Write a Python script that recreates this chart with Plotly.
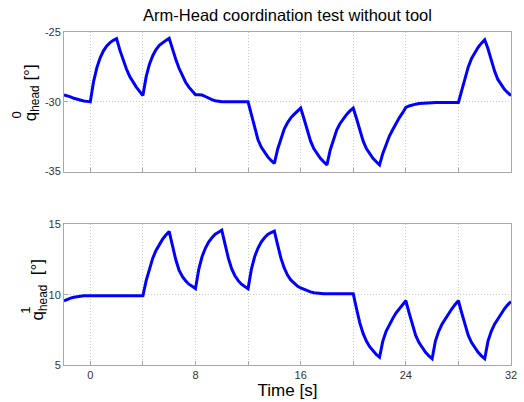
import plotly.graph_objects as go

time_s = [
    -2.0,
    -1.75, -1.5, -1.25, -1.0, -0.75, -0.5, -0.25, 0.0,
    0.25, 0.5, 0.75, 1.0, 1.25, 1.5, 1.75, 2.0,
    2.25, 2.5, 2.75, 3.0, 3.25, 3.5, 3.75, 4.0,
    4.25, 4.5, 4.75, 5.0, 5.25, 5.5, 5.75, 6.0,
    6.25, 6.5, 6.75, 7.0, 7.25, 7.5, 7.75, 8.0,
    8.25, 8.5, 8.75, 9.0, 9.25, 9.5, 9.75, 10.0,
    10.25, 10.5, 10.75, 11.0, 11.25, 11.5, 11.75, 12.0,
    12.25, 12.5, 12.75, 13.0, 13.25, 13.5, 13.75, 14.0,
    14.25, 14.5, 14.75, 15.0, 15.25, 15.5, 15.75, 16.0,
    16.25, 16.5, 16.75, 17.0, 17.25, 17.5, 17.75, 18.0,
    18.25, 18.5, 18.75, 19.0, 19.25, 19.5, 19.75, 20.0,
    20.25, 20.5, 20.75, 21.0, 21.25, 21.5, 21.75, 22.0,
    22.25, 22.5, 22.75, 23.0, 23.25, 23.5, 23.75, 24.0,
    24.25, 24.5, 24.75, 25.0, 25.25, 25.5, 25.75, 26.0,
    26.25, 26.5, 26.75, 27.0, 27.25, 27.5, 27.75, 28.0,
    28.25, 28.5, 28.75, 29.0, 29.25, 29.5, 29.75, 30.0,
    30.25, 30.5, 30.75, 31.0, 31.25, 31.5, 31.75, 32.0,
]

q0_head = [
    -29.5,
    -29.55, -29.65, -29.75, -29.83, -29.9, -29.94, -29.97, -30.0,
    -28.55, -27.55, -26.85, -26.35, -26.0, -25.76, -25.6, -25.48,
    -26.3, -27.0, -27.65, -28.2, -28.6, -28.95, -29.25, -29.55,
    -28.2, -27.3, -26.7, -26.25, -25.95, -25.75, -25.6, -25.45,
    -26.25, -26.95, -27.6, -28.15, -28.6, -28.95, -29.25, -29.5,
    -29.5, -29.52, -29.62, -29.75, -29.85, -29.92, -29.97, -30.0,
    -30.0, -30.0, -30.0, -30.0, -30.0, -30.0, -30.0, -30.0,
    -30.9, -31.9, -32.7, -33.25, -33.65, -33.95, -34.2, -34.42,
    -33.4, -32.6, -31.95, -31.5, -31.15, -30.9, -30.65, -30.45,
    -31.2, -32.1, -32.8, -33.35, -33.75, -34.05, -34.3, -34.52,
    -33.45, -32.65, -32.0, -31.55, -31.2, -30.9, -30.65, -30.45,
    -31.2, -32.1, -32.8, -33.35, -33.75, -34.05, -34.3, -34.52,
    -33.7, -33.0, -32.45, -32.0, -31.55, -31.15, -30.8, -30.4,
    -30.3, -30.22, -30.17, -30.13, -30.1, -30.08, -30.07, -30.06,
    -30.05, -30.05, -30.05, -30.05, -30.05, -30.05, -30.05, -30.05,
    -29.2, -28.3, -27.5, -26.9, -26.45, -26.1, -25.8, -25.55,
    -26.2, -27.0, -27.8, -28.4, -28.8, -29.1, -29.35, -29.55,
]

q1_head = [
    9.57,
    9.68, 9.76, 9.82, 9.87, 9.9, 9.92, 9.92, 9.92,
    9.92, 9.92, 9.92, 9.92, 9.92, 9.92, 9.92, 9.92,
    9.92, 9.92, 9.92, 9.92, 9.92, 9.92, 9.92, 9.92,
    11.0, 11.9, 12.6, 13.15, 13.6, 13.95, 14.25, 14.5,
    13.5, 12.5, 11.75, 11.3, 11.0, 10.75, 10.6, 10.43,
    11.8, 12.7, 13.3, 13.75, 14.05, 14.3, 14.45, 14.6,
    13.6, 12.6, 11.85, 11.35, 11.0, 10.75, 10.58, 10.43,
    11.8, 12.7, 13.3, 13.75, 14.05, 14.28, 14.42, 14.52,
    13.55, 12.6, 11.9, 11.4, 11.05, 10.8, 10.62, 10.48,
    10.38, 10.28, 10.2, 10.14, 10.1, 10.08, 10.07, 10.07,
    10.07, 10.07, 10.07, 10.07, 10.07, 10.07, 10.07, 10.07,
    9.0, 8.0, 7.25, 6.7, 6.3, 6.0, 5.75, 5.55,
    6.7, 7.4, 7.9, 8.3, 8.7, 9.0, 9.3, 9.57,
    8.7, 7.8, 7.1, 6.6, 6.2, 5.9, 5.65, 5.45,
    6.7, 7.4, 7.9, 8.3, 8.7, 9.0, 9.3, 9.57,
    8.7, 7.8, 7.1, 6.6, 6.2, 5.9, 5.65, 5.45,
    6.7, 7.4, 7.9, 8.3, 8.7, 9.0, 9.28, 9.52,
]

y0_ticks = [-35, -30, -25]
y0_ticktext = ["-35", "-30", "-25"]
y1_ticks = [5, 10, 15]
y1_ticktext = ["5", "10", "15"]

title_text = "Arm-Head coordination test without tool"
y0_label = "q<sub>head</sub> [°]"
y0_sup = "0"
y1_label = "q<sub>head</sub>  [°]"
y1_sup = "1"
x_label = "Time [s]"

FONT = "Liberation Sans, Arial, sans-serif"
BLUE = "#0000FF"
GRID = "#c8c8c8"
AXLINE = "#a8a8a8"
TICKFONT = dict(family=FONT, size=11, color="#333333")

# pixel geometry of the plot area
L, R, T, B = 64, 7, 32, 36
W, H = 524, 402
PW, PH = W - L - R, H - T - B


def px_x(px):
    return (px - L) / PW


def px_y(py):
    return (H - B - py) / PH


fig = go.Figure()
fig.add_trace(go.Scatter(x=time_s, y=q0_head, xaxis="x", yaxis="y", mode="lines",
                         line=dict(color=BLUE, width=3), showlegend=False))
fig.add_trace(go.Scatter(x=time_s, y=q1_head, xaxis="x2", yaxis="y2", mode="lines",
                         line=dict(color=BLUE, width=3), showlegend=False))

DOTS = "1px,2px"


def xax(show_labels, anchor):
    return dict(
        domain=[0, 1], anchor=anchor, range=[-2, 32],
        tickmode="linear", tick0=0, dtick=8,
        showticklabels=show_labels,
        ticks="inside", ticklen=4, tickcolor=AXLINE,
        showgrid=True, gridcolor=GRID, griddash=DOTS, gridwidth=1,
        minor=dict(dtick=4, tick0=0, showgrid=True, gridcolor=GRID, griddash=DOTS,
                   ticks="inside", ticklen=4, tickcolor=AXLINE),
        showline=True, mirror=True, linecolor=AXLINE, linewidth=1,
        zeroline=False,
        tickfont=TICKFONT,
    )


def yax(domain, rng, anchor, tv, tt):
    return dict(
        domain=domain, anchor=anchor, range=rng,
        tickmode="array", tickvals=tv, ticktext=tt,
        ticks="inside", ticklen=4, tickcolor=AXLINE,
        showgrid=True, gridcolor=GRID, griddash=DOTS, gridwidth=1,
        showline=True, mirror=True, linecolor=AXLINE, linewidth=1,
        zeroline=False,
        tickfont=TICKFONT,
    )


x2 = xax(True, "y2")
x2["title"] = dict(text=x_label, font=dict(family=FONT, size=17, color="#000000"), standoff=2)

label_font = dict(family=FONT, size=17, color="#000000")
sup_font = dict(family=FONT, size=13, color="#000000")
annotations = [
    dict(text=y0_label, textangle=-90, xref="paper", yref="paper",
         x=px_x(31), y=px_y(93), xanchor="center", yanchor="middle",
         showarrow=False, font=label_font),
    dict(text=y0_sup, textangle=-90, xref="paper", yref="paper",
         x=px_x(16), y=px_y(115), xanchor="center", yanchor="middle",
         showarrow=False, font=sup_font),
    dict(text=y1_label, textangle=-90, xref="paper", yref="paper",
         x=px_x(39), y=px_y(290), xanchor="center", yanchor="middle",
         showarrow=False, font=label_font),
    dict(text=y1_sup, textangle=-90, xref="paper", yref="paper",
         x=px_x(25), y=px_y(311), xanchor="center", yanchor="middle",
         showarrow=False, font=sup_font),
]

fig.update_layout(
    width=W, height=H,
    margin=dict(l=L, r=R, t=T, b=B),
    paper_bgcolor="white", plot_bgcolor="white",
    title=dict(text=title_text, x=0.5, xref="paper", y=1 - 15.5 / H, yanchor="middle",
               font=dict(family=FONT, size=16.5, color="#000000")),
    xaxis=xax(False, "y"),
    yaxis=yax([px_y(172), 1.0], [-35, -25], "x", y0_ticks, y0_ticktext),
    xaxis2=x2,
    yaxis2=yax([0.0, px_y(225)], [5, 15], "x2", y1_ticks, y1_ticktext),
    annotations=annotations,
)

fig.write_html("out.html")
